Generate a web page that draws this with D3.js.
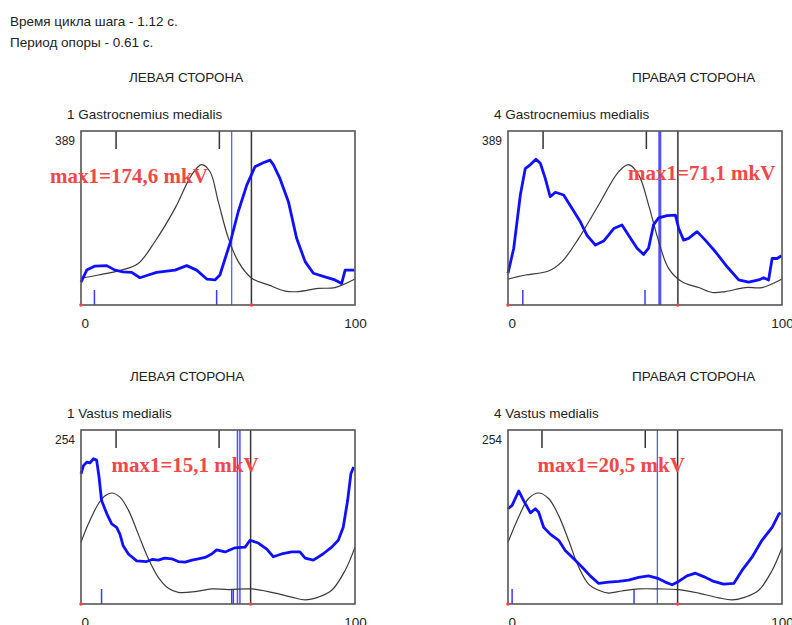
<!DOCTYPE html>
<html>
<head>
<meta charset="utf-8">
<script src="https://cdn.jsdelivr.net/npm/d3@7"></script>
<style>
        body { margin: 0; background: #ffffff; }
</style>
</head>
<body>
<svg id="chart" width="792" height="625"></svg>
<script>
// header texts
const cycleText = "Время цикла шага - 1.12 с.";
const supportText = "Период опоры - 0.61 с.";
const sideTitles = ["ЛЕВАЯ СТОРОНА", "ПРАВАЯ СТОРОНА", "ЛЕВАЯ СТОРОНА", "ПРАВАЯ СТОРОНА"];
const muscleNames = ["1 Gastrocnemius medialis", "4 Gastrocnemius medialis", "1 Vastus medialis", "4 Vastus medialis"];
const scaleMax = [389, 389, 254, 254];
const xTicks = [0, 100];
const maxLabels = ["max1=174,6 mkV", "max1=71,1 mkV", "max1=15,1 mkV", "max1=20,5 mkV"];

// EMG envelopes (blue): [% of cycle, amplitude]
const gmLeftEmg = [[0,51],[2.1,78],[5.1,87],[9.4,88],[12.4,78],[15.4,74],[18.5,73],[21.5,61],[24.6,67],[27.6,73],
        [34.3,78],[38.6,88],[42.2,78],[45.9,58],[48.9,56],[50.7,67],[52.6,104],[54.4,138],[57.4,209],[60.5,268],
        [63.5,309],[66.5,318],[69,324],[70.2,314],[72.6,283],[75.7,231],[78.7,149],[81.8,97],[84.8,71],[89,63],
        [92.7,56],[95.1,48],[96.4,78],[99.8,78]];
const gmRightEmg = [[0,71],[2.1,127],[4.5,246],[6.3,305],[8.2,314],[10.2,326],[11.8,317],[13.6,283],[15.4,242],[17.3,252],
        [20.3,246],[23.4,216],[26.4,186],[28.8,156],[31.9,134],[34.9,143],[38.6,171],[41.6,179],[44,156],[47.1,127],
        [49.5,113],[51.3,127],[53.1,179],[55,195],[58,200],[61.1,201],[62.3,171],[64.1,145],[65.9,149],[69,164],
        [72,145],[75.7,119],[79.9,86],[84.2,56],[87.8,51],[91.5,56],[93.3,61],[95.1,56],[96.4,104],[98.2,104],[99.8,110]];
const vmLeftEmg = [[0,190],[0.9,202],[2.1,207],[3.3,206],[4.5,212],[5.7,210],[6.6,185],[7.5,151],[9.4,132],[11.2,117],
        [13,112],[14.2,102],[15.4,85],[17.3,73],[20.3,63],[23.9,62],[26,65],[28.2,64],[30.5,67],[33.1,66],[35.5,62],
        [38,61],[40.5,64],[42.8,66],[45.3,68],[47.7,73],[49.5,79],[52.6,76],[56.2,82],[59.9,83],[61.7,93],[64.7,89],
        [67.8,80],[70.2,69],[73.2,73],[76.9,76],[79.9,76],[81.8,67],[84.8,64],[88.3,73],[91.5,83],[93.9,93],[95.7,112],
        [97.3,151],[98.5,190],[99.5,200]];
const vmRightEmg = [[0,139],[1.5,144],[3.9,165],[5.7,151],[8.2,133],[10,139],[11.2,134],[13,112],[15.4,102],[18.5,93],
        [20.9,78],[24,66],[27,54],[30,41],[33.1,30],[36.7,32],[40.4,33],[44,35],[47.7,39],[51.3,41],[55,37],[57.4,32],
        [59.9,28],[62.3,33],[65.3,41],[68.4,45],[71.4,40],[75.1,33],[78.7,29],[82.4,30],[85.4,49],[89,68],[92.7,93],
        [96.4,112],[98.8,131],[99.5,133]];

// norm curves (black)
const gmLeftNorm = [[0,60],[6.3,67],[14.8,78],[20.9,93],[27,142],[34.3,216],[40.4,291],[44,314],[47.1,298],[50.1,231],
        [53.8,149],[57.4,97],[62.3,60],[68.4,45],[74.5,31],[79.3,30],[86.6,37],[92.7,39],[100,58]];
const gmRightNorm = [[0,58],[6.3,67],[14.8,76],[19.7,97],[25.8,149],[33.1,224],[40.4,298],[44,314],[47.7,291],[51.3,224],
        [55,142],[58.6,82],[63.5,52],[69.6,39],[74.5,28],[79.3,30],[86.6,39],[92.7,39],[100,58]];
const vmLeftNorm = [[0,90],[2.7,117],[6.3,146],[8.8,158],[11.2,162],[14.2,156],[17.3,137],[20.9,102],[24.6,66],[28.2,39],
        [31.9,23],[35.5,17],[41.6,18],[47.7,22],[53.8,21],[62.3,22],[69.6,17],[76.9,10],[81.8,6],[86.6,10],[91.5,20],
        [96.4,49],[100,83]];
const vmRightNorm = [[0,90],[3.9,127],[7.5,154],[11.2,162],[14.8,154],[18.5,129],[22.1,93],[25.8,54],[29.4,29],[33.1,20],
        [36.7,16],[41.6,19],[47.7,22],[55,22],[62.3,21],[69.6,16],[76.9,9],[81.8,6],[86.6,10],[91.5,20],[96.4,49],[100,82]];

// phase markers, % of cycle
const topTicks = [[12.8, 50.5], [12.8, 50.5], [12.8, 50.4], [12.4, 50.1]];
const bottomTicks = [[4.9, 49.5], [5.4, 50], [7.5, 55.0, 55.6], [1.5, 46]];
const supportLines = [[55], [55.4], [57.1, 58], [54.5]];
const normLine = [62.2, 62, 61.9, 61.9];

const emgSeries = [gmLeftEmg, gmRightEmg, vmLeftEmg, vmRightEmg];
const normSeries = [gmLeftNorm, gmRightNorm, vmLeftNorm, vmRightNorm];

// panel layout
const panelLayout = [
        { left: 81, top: 131, titleX: 129, labelX: -11.3, labelY: 0.70, lineW: 1.2 },
        { left: 508, top: 131, titleX: 632, labelX: 43.8, labelY: 0.72, lineW: 3 },
        { left: 81, top: 430, titleX: 130, labelX: 11.1, labelY: 0.76, lineW: 1.5 },
        { left: 508, top: 430, titleX: 632, labelX: 10.8, labelY: 0.76, lineW: 1.2 }
];

class EmgPanel {

        constructor(svg, i) {
                // constant parameters
                this.width = 274;
                this.height = 174;
                this.tickLen = 18;
                this.bottomTickLen = 15;

                this.svg = svg;
                this.i = i;
                this.layout = panelLayout[i];

                this.draw();
        }

        draw() {
                const i = this.i, L = this.layout;
                const g = this.svg.append("g").attr("id", "panel" + i);
                const ymax = scaleMax[i];

                const x = d3.scaleLinear().domain([0, 100]).range([L.left, L.left + this.width]);
                const y = d3.scaleLinear().domain([0, ymax]).range([L.top + this.height, L.top]);
                const y0 = y(0), y1 = y(ymax);

                g.append("text")
                        .attr("x", L.titleX)
                        .attr("y", L.top - 49)
                        .text(sideTitles[i])
                        .attr("class", "lbl");

                g.append("text")
                        .attr("x", L.left - 14)
                        .attr("y", L.top - 12)
                        .text(muscleNames[i])
                        .attr("class", "lbl");

                g.append("text")
                        .attr("x", L.left - 6)
                        .attr("y", L.top + 14)
                        .attr("text-anchor", "end")
                        .text(ymax)
                        .attr("class", "lbl")
                        .attr("font-size", "12px");

                // x axis, only 0 and 100
                const ax = g.append("g")
                        .attr("transform", "translate(0," + y0 + ")")
                        .call(d3.axisBottom(x).tickValues(xTicks).tickSize(0).tickPadding(13));
                ax.select(".domain").remove();
                ax.selectAll("text")
                        .attr("font-family", "Liberation Sans, Arial, sans-serif")
                        .attr("font-size", "13.5px")
                        .attr("fill", "#222")
                        .attr("text-anchor", d => d === 0 ? "start" : "middle");

                // black phase ticks at top
                g.selectAll(".ttick").data(topTicks[i]).join("line")
                        .attr("x1", d => x(d)).attr("x2", d => x(d))
                        .attr("y1", y1).attr("y2", y1 + this.tickLen)
                        .style("stroke", "#333").style("stroke-width", 1.5);

                // blue ticks at bottom
                g.selectAll(".btick").data(bottomTicks[i]).join("line")
                        .attr("x1", d => x(d)).attr("x2", d => x(d))
                        .attr("y1", y0 - this.bottomTickLen).attr("y2", y0)
                        .style("stroke", "#3a3aff").style("stroke-width", 1.5);

                // support period lines
                g.selectAll(".sline").data(supportLines[i]).join("line")
                        .attr("x1", d => x(d)).attr("x2", d => x(d))
                        .attr("y1", y1).attr("y2", y0)
                        .style("stroke", "#5050ff").style("stroke-width", L.lineW);

                g.append("line")
                        .attr("x1", x(normLine[i])).attr("x2", x(normLine[i]))
                        .attr("y1", y1).attr("y2", y0)
                        .style("stroke", "#333").style("stroke-width", 1.5);

                const line = d3.line().x(d => x(d[0])).y(d => y(d[1]));

                g.append("path")
                        .attr("d", line.curve(d3.curveCatmullRom)(normSeries[i]))
                        .attr("fill", "none")
                        .style("stroke", "#3a3a3a")
                        .style("stroke-width", 1.2);

                g.append("path")
                        .attr("d", line.curve(d3.curveLinear)(emgSeries[i]))
                        .attr("fill", "none")
                        .style("stroke", "#1010ff")
                        .style("stroke-width", 2.8)
                        .style("stroke-linejoin", "round");

                // frame
                g.append("rect")
                        .attr("x", x(0)).attr("y", y1)
                        .attr("width", x(100) - x(0)).attr("height", y0 - y1)
                        .attr("fill", "none")
                        .style("stroke", "#555")
                        .style("stroke-width", 1.6);

                g.selectAll(".rdot").data([0, normLine[i]]).join("circle")
                        .attr("cx", d => x(d)).attr("cy", y0).attr("r", 1.8)
                        .attr("fill", "#ff4040");

                g.append("text")
                        .attr("x", x(L.labelX))
                        .attr("y", y(ymax * L.labelY))
                        .text(maxLabels[i])
                        .attr("font-family", "Liberation Serif, Times New Roman, serif")
                        .attr("font-weight", "bold")
                        .attr("font-size", "21px")
                        .attr("fill", "#f04848");
        }
}

const svg = d3.select("#chart");

svg.append("text").attr("x", 10).attr("y", 26).text(cycleText).attr("class", "lbl");
svg.append("text").attr("x", 10).attr("y", 47).text(supportText).attr("class", "lbl");

for (let i = 0; i < 4; i++) new EmgPanel(svg, i);

svg.selectAll(".lbl")
        .attr("font-family", "Liberation Sans, Arial, sans-serif")
        .attr("font-size", function() { return d3.select(this).attr("font-size") || "13.5px"; })
        .attr("fill", "#222");
</script>
</body>
</html>
